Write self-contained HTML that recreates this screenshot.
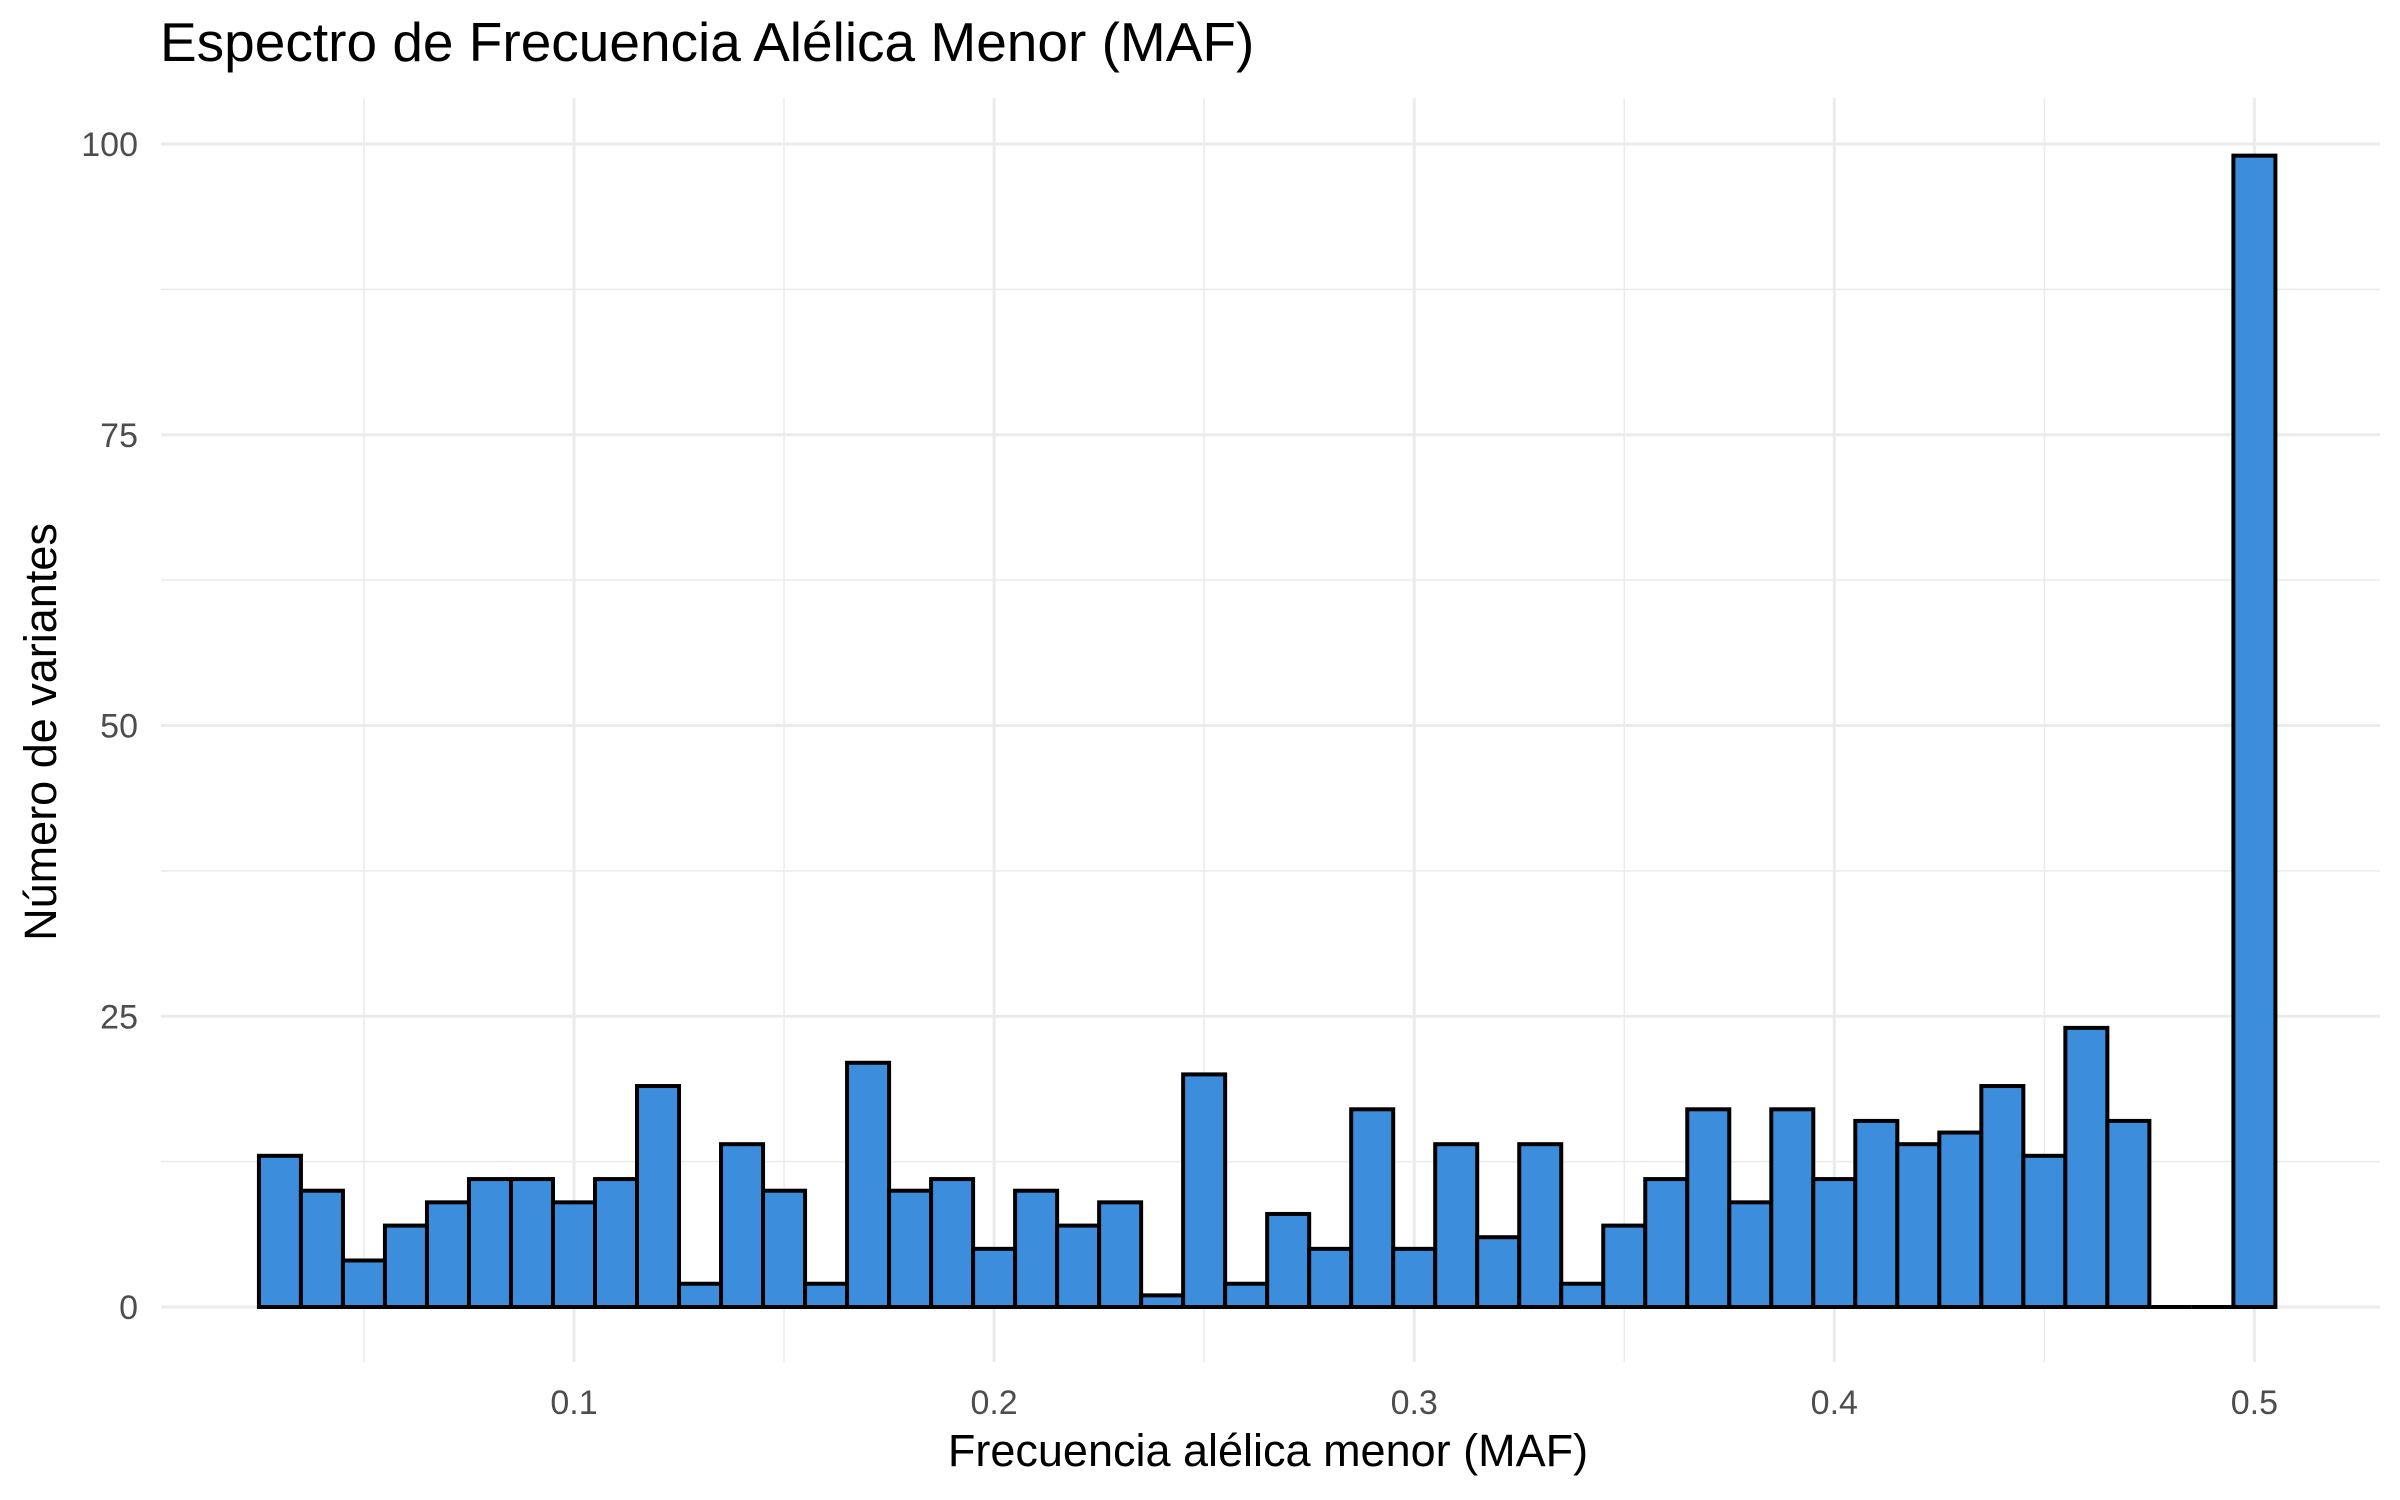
<!DOCTYPE html>
<html><head><meta charset="utf-8"><style>
html,body{margin:0;padding:0;background:#fff;}
svg{display:block;font-family:"Liberation Sans",sans-serif;}
</style></head><body>
<svg id="chart" width="2400" height="1500" viewBox="0 0 2400 1500">
<text x="160" y="61" font-size="55" fill="#000">Espectro de Frecuencia Alélica Menor (MAF)</text>
<g id="grid"></g>
<g id="bars"></g>
<g id="xticks"></g>
<g id="yticks"></g>
<text x="1268" y="1466" font-size="45" text-anchor="middle" fill="#000">Frecuencia alélica menor (MAF)</text>
<text transform="translate(56,732) rotate(-90)" font-size="45" text-anchor="middle" fill="#000">Número de variantes</text>
</svg>
<script>
const binCenters = [0.03,0.04,0.05,0.06,0.07,0.08,0.09,0.10,0.11,0.12,0.13,0.14,0.15,0.16,0.17,0.18,0.19,0.20,0.21,0.22,0.23,0.24,0.25,0.26,0.27,0.28,0.29,0.30,0.31,0.32,0.33,0.34,0.35,0.36,0.37,0.38,0.39,0.40,0.41,0.42,0.43,0.44,0.45,0.46,0.47,0.48,0.49,0.50];
const counts = [13,10,4,7,9,11,11,9,11,19,2,14,10,2,21,10,11,5,10,7,9,1,20,2,8,5,17,5,14,6,14,2,7,11,17,9,17,11,16,14,15,19,13,24,16,0,0,99];
const binWidth = 0.01;
const xTicks = [0.1,0.2,0.3,0.4,0.5];
const xTickLabels = ["0.1","0.2","0.3","0.4","0.5"];
const xMinor = [0.05,0.15,0.25,0.35,0.45];
const yTicks = [0,25,50,75,100];
const yTickLabels = ["0","25","50","75","100"];
const yMinor = [12.5,37.5,62.5,87.5];

const X = v => 574 + (v - 0.1) * 4201;
const Y = v => 1307 - v * 11.63;
const NS = "http://www.w3.org/2000/svg";
function mk(tag, attrs, parent){const e=document.createElementNS(NS,tag);for(const k in attrs)e.setAttribute(k,attrs[k]);parent.appendChild(e);return e;}
const grid=document.getElementById('grid'), bars=document.getElementById('bars');
const xt=document.getElementById('xticks'), yt=document.getElementById('yticks');
const L=161,R=2380,T=98,B=1362;
xMinor.forEach(v=>{const l=mk('line',{x1:X(v),x2:X(v),y1:T,y2:B,stroke:'#ebebeb','stroke-width':1.5},grid);

});
yMinor.forEach(v=>{const l=mk('line',{x1:L,x2:R,y1:Y(v),y2:Y(v),stroke:'#ebebeb','stroke-width':1.5},grid);

});
xTicks.forEach((v,i)=>{const l=mk('line',{x1:X(v),x2:X(v),y1:T,y2:B,stroke:'#ebebeb','stroke-width':3},grid);


const t=mk('text',{x:X(v),y:1414,'font-size':34,'text-anchor':'middle',fill:'#4d4d4d'},xt);t.textContent=xTickLabels[i];

});
yTicks.forEach((v,i)=>{const l=mk('line',{x1:L,x2:R,y1:Y(v),y2:Y(v),stroke:'#ebebeb','stroke-width':3},grid);


const t=mk('text',{x:138,y:Y(v)+12,'font-size':34,'text-anchor':'end',fill:'#4d4d4d'},yt);t.textContent=yTickLabels[i];

});
binCenters.forEach((c,i)=>{const x0=X(c-binWidth/2),x1=X(c+binWidth/2),y=Y(counts[i]);
if(counts[i]===0){
const z=mk('line',{x1:x0,x2:x1,y1:y,y2:y,stroke:'#000','stroke-width':4},bars);


return;}
const r=mk('rect',{x:x0,y:y,width:x1-x0,height:Y(0)-y,fill:'#3c8ddc',stroke:'#000','stroke-width':4},bars);

});
</script>
</body></html>
